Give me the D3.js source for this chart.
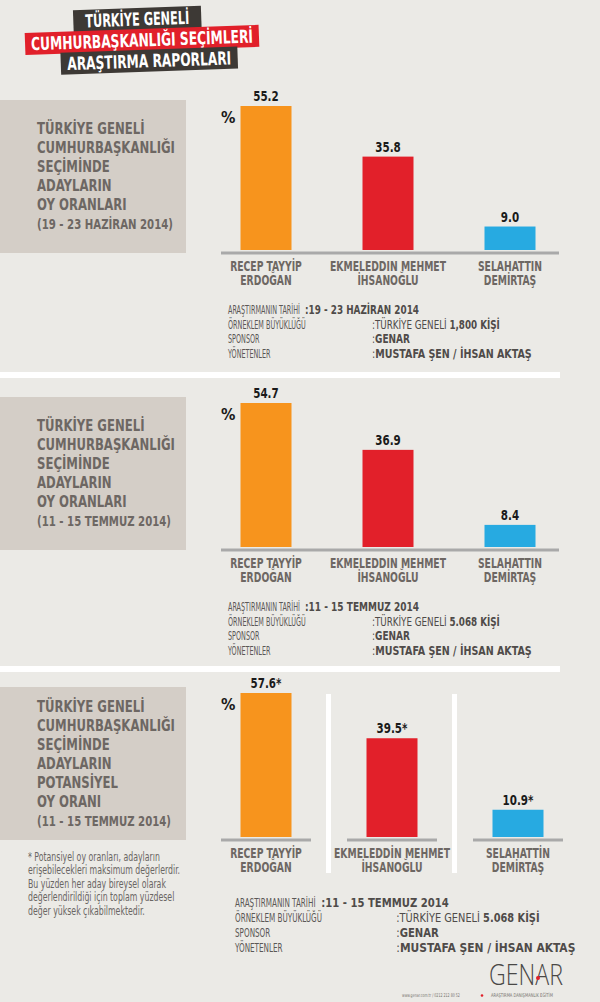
<!DOCTYPE html>
<html>
<head>
<meta charset="utf-8">
<script src="https://cdn.jsdelivr.net/npm/d3@7"></script>
<style>
  body { margin: 0; background: #ebeae6; }
  svg text { font-family: "Liberation Sans Narrow", "DejaVu Sans Condensed", "Roboto", sans-serif; }
</style>
</head>
<body>
<div id="chart"></div>
<script>
// candidates and results
const candidateLines = [["RECEP TAYYİP", "ERDOĞAN"], ["EKMELEDDIN MEHMET", "İHSANOĞLU"], ["SELAHATTIN", "DEMİRTAŞ"]];
const candidateLines3 = [["RECEP TAYYİP", "ERDOĞAN"], ["EKMELEDDİN MEHMET", "İHSANOĞLU"], ["SELAHATTİN", "DEMİRTAŞ"]];
const haziranValues = [55.2, 35.8, 9.0];
const temmuzValues = [54.7, 36.9, 8.4];
const potentialValues = [57.6, 39.5, 10.9];
const barColors = ["#f7941d", "#e2202a", "#27aae1"];

const haziranTitle = ["TÜRKİYE GENELİ", "CUMHURBAŞKANLIĞI", "SEÇİMİNDE", "ADAYLARIN", "OY ORANLARI", "(19 - 23  HAZİRAN 2014)"];
const temmuzTitle = ["TÜRKİYE GENELİ", "CUMHURBAŞKANLIĞI", "SEÇİMİNDE", "ADAYLARIN", "OY ORANLARI", "(11 - 15  TEMMUZ 2014)"];
const potentialTitle = ["TÜRKİYE GENELİ", "CUMHURBAŞKANLIĞI", "SEÇİMİNDE", "ADAYLARIN", "POTANSİYEL", "OY ORANI", "(11 - 15  TEMMUZ 2014)"];

const infoLabels = ["ARAŞTIRMANIN TARİHİ", "ÖRNEKLEM BÜYÜKLÜĞÜ", "SPONSOR", "YÖNETENLER"];
const haziranInfo = [["", "19 - 23  HAZİRAN  2014"], ["TÜRKİYE GENELİ ", "1,800 KİŞİ"], ["", "GENAR"], ["", "MUSTAFA ŞEN  /  İHSAN AKTAŞ"]];
const temmuzInfo = [["", "11 - 15  TEMMUZ  2014"], ["TÜRKİYE GENELİ ", "5.068 KİŞİ"], ["", "GENAR"], ["", "MUSTAFA ŞEN  /  İHSAN AKTAŞ"]];

const footnote = ["* Potansiyel oy oranları, adayların", "erişebilecekleri maksimum değerlerdir.", "Bu yüzden her aday bireysel olarak", "değerlendirildiği için toplam yüzdesel", "değer yüksek çıkabilmektedir."];

const W = 600, H = 1002;
const svg = d3.select('#chart').append('svg')
    .attr('width', W)
    .attr('height', H);

svg.append('rect').attr('width', W).attr('height', H).attr('fill', '#ebeae6');

// squeeze text horizontally by factor k around its x anchor (keeps height)
function squeeze(sel, k) {
    sel.each(function() {
        const x0 = +d3.select(this).attr('x') || 0;
        d3.select(this).attr('transform', 'translate(' + x0 + ',0) scale(' + k + ',1) translate(' + (-x0) + ',0)');
    });
}
function fitTo(sel, node, target) {
    const k = Math.min(1, target / node.getComputedTextLength());
    squeeze(sel, k);
}

// Header
const header = svg.append('g').attr('transform', 'rotate(-2, 140, 40)');
const headerRows = [
    { text: 'TÜRKİYE GENELİ', x: 74, y: 8, w: 128, fill: '#3d3935', tw: 104 },
    { text: 'CUMHURBAŞKANLIĞI SEÇİMLERİ', x: 25, y: 29, w: 234, fill: '#e1202a', tw: 222 },
    { text: 'ARAŞTIRMA RAPORLARI', x: 60, y: 50, w: 177, fill: '#3d3935', tw: 164 }
];
headerRows.forEach(r => {
    header.append('rect').attr('x', r.x).attr('y', r.y).attr('width', r.w).attr('height', 22).attr('fill', r.fill);
    const t = header.append('text')
        .attr('x', r.x + r.w / 2).attr('y', r.y + 17.5)
        .attr('text-anchor', 'middle')
        .attr('fill', '#fff')
        .style('font-size', '18px').style('font-weight', 'bold')
        .text(r.text);
    fitTo(t, t.node(), r.tw);
});

function drawPanel(opt) {
    const g = svg.append('g').attr('transform', 'translate(0,' + opt.top + ')');
    // grey title box
    g.append('rect').attr('x', 0).attr('y', 0).attr('width', 186).attr('height', 153).attr('fill', '#d4cec7');
    const lineH = 19;
    const first = 76.5 - (opt.title.length - 1) * lineH / 2;
    const titles = g.selectAll('.ttl').data(opt.title).enter().append('text')
        .attr('class', 'ttl')
        .attr('x', 37)
        .attr('y', (d, i) => first + i * lineH + 5.5)
        .attr('fill', '#6d6763')
        .style('font-weight', 'bold')
        .style('font-size', (d, i) => i === opt.title.length - 1 ? '13.5px' : '15.5px')
        .text(d => d);
    const refNode = titles.filter(d => d === 'CUMHURBAŞKANLIĞI').node();
    fitTo(titles, refNode, 138);

    const baseline = 153;
    const y = d3.scaleLinear()
        .domain([0, d3.max(opt.values)])
        .range([baseline - 3, 6]);
    const x = d3.scalePoint()
        .domain(d3.range(opt.values.length))
        .range(opt.xRange);
    const bw = 51;

    if (opt.split) {
        // white vertical separators
        const mids = d3.range(opt.values.length - 1).map(i => (x(i) + x(i + 1)) / 2);
        g.selectAll('.sep').data(mids).enter().append('rect')
            .attr('x', d => d - 3).attr('y', 7).attr('width', 5).attr('height', 179)
            .attr('fill', '#fff');
        g.selectAll('.axseg').data(opt.values).enter().append('line')
            .attr('x1', (d, i) => x(i) - 45).attr('x2', (d, i) => x(i) + 45)
            .attr('y1', baseline).attr('y2', baseline)
            .attr('stroke', '#a9a9a9').attr('stroke-width', 3);
    } else {
        g.append('line')
            .attr('x1', 221).attr('x2', 559)
            .attr('y1', baseline).attr('y2', baseline)
            .attr('stroke', '#a9a9a9').attr('stroke-width', 3);
    }

    g.selectAll('.bar').data(opt.values).enter().append('rect')
        .attr('class', 'bar')
        .attr('x', (d, i) => x(i) - bw / 2)
        .attr('y', d => y(d))
        .attr('width', bw)
        .attr('height', d => y(0) - y(d))
        .attr('fill', (d, i) => barColors[i]);

    const vals = g.selectAll('.val').data(opt.values).enter().append('text')
        .attr('x', (d, i) => x(i))
        .attr('y', d => y(d) - 5)
        .attr('text-anchor', 'middle')
        .attr('fill', '#1a1a1a')
        .style('font-size', '14px').style('font-weight', 'bold')
        .text(d => d.toFixed(1) + opt.suffix);
    squeeze(vals, 0.82);

    g.append('text')
        .attr('x', 221).attr('y', 23)
        .attr('fill', '#1a1a1a')
        .style('font-size', '16px').style('font-weight', 'bold')
        .text('%');

    // category labels, one text per line
    const catLines = [];
    opt.names.forEach((n, i) => n.forEach((t, j) => catLines.push({ i: i, j: j, t: t })));
    const cats = g.selectAll('.cat').data(catLines).enter().append('text')
        .attr('x', d => x(d.i))
        .attr('y', d => baseline + 18 + d.j * 14)
        .attr('text-anchor', 'middle')
        .attr('fill', '#6d6763')
        .style('font-size', '13.5px').style('font-weight', 'bold')
        .text(d => d.t);
    fitTo(cats, cats.filter(d => d.j === 0 && d.i === 1).node(), 116);

    // info block
    if (opt.info) {
        const s = opt.infoScale;
        const ig = svg.append('g').attr('transform', 'translate(' + opt.infoX + ',' + opt.infoTop + ')');
        const rows = ig.selectAll('.info').data(infoLabels).enter().append('g')
            .attr('transform', (d, i) => 'translate(0,' + (i * opt.spacing) + ')');
        const lab = rows.append('text')
            .attr('x', 0)
            .attr('fill', '#5b5856')
            .style('font-size', opt.font + 'px')
            .text(d => d);
        fitTo(lab, lab.node(), 72 * s);
        const val = rows.append('text')
            .attr('x', (d, i) => (i === 0 ? 77 : 144) * s)
            .attr('fill', '#4f4b49')
            .style('font-size', opt.font + 'px');
        val.append('tspan').style('font-weight', (d, i) => i === 0 ? 'bold' : 'normal').text(':');
        val.append('tspan').text((d, i) => opt.info[i][0]);
        val.append('tspan').style('font-weight', 'bold').text((d, i) => opt.info[i][1]);
        val.each(function(d, i) {
            const targets = [114, 128, 38, 160];
            fitTo(d3.select(this), this, targets[i] * s);
        });
    }
    return g;
}

drawPanel({ top: 100, title: haziranTitle, values: haziranValues, names: candidateLines, xRange: [266, 510], suffix: '', split: false,
    info: haziranInfo, infoX: 228, infoTop: 314, infoScale: 1, spacing: 14.6, font: 12.5 });
svg.append('rect').attr('x', 0).attr('y', 372).attr('width', 560).attr('height', 6).attr('fill', '#fff');

drawPanel({ top: 397, title: temmuzTitle, values: temmuzValues, names: candidateLines, xRange: [266, 510], suffix: '', split: false,
    info: temmuzInfo, infoX: 228, infoTop: 611, infoScale: 1, spacing: 14.6, font: 12.5 });
svg.append('rect').attr('x', 0).attr('y', 666).attr('width', 560).attr('height', 6).attr('fill', '#fff');

drawPanel({ top: 687, title: potentialTitle, values: potentialValues, names: candidateLines3, xRange: [266, 518], suffix: '*', split: true,
    info: temmuzInfo, infoX: 235, infoTop: 907, infoScale: 1.12, spacing: 15, font: 13 });

// footnote
const fn = svg.append('g').selectAll('text').data(footnote).enter().append('text')
    .attr('x', 28)
    .attr('y', (d, i) => 861 + i * 13.5)
    .attr('fill', '#6a6664')
    .style('font-size', '11.5px')
    .text(d => d);
fitTo(fn, fn.filter((d, i) => i === 1).node(), 152);

// footer logo
const logo = svg.append('text')
    .attr('x', 489).attr('y', 985)
    .attr('fill', '#4a4846')
    .style('font-size', '30px')
    .style('font-family', '"Open Sans", "Liberation Sans", sans-serif')
    .style('font-weight', 300)
    .text('GENAR');
fitTo(logo, logo.node(), 74);
svg.append('circle').attr('cx', 538).attr('cy', 978).attr('r', 2).attr('fill', '#e1202a');
const small1 = svg.append('text').attr('x', 402).attr('y', 997).attr('fill', '#77736f')
    .style('font-size', '5px').text('www.genar.com.tr  /  0212 212 80 52');
fitTo(small1, small1.node(), 58);
svg.append('circle').attr('cx', 482).attr('cy', 995.5).attr('r', 1.3).attr('fill', '#e1202a');
const small2 = svg.append('text').attr('x', 491).attr('y', 997).attr('fill', '#77736f')
    .style('font-size', '5px').text('ARAŞTIRMA  DANIŞMANLIK  EĞİTİM');
fitTo(small2, small2.node(), 62);
</script>
</body>
</html>
